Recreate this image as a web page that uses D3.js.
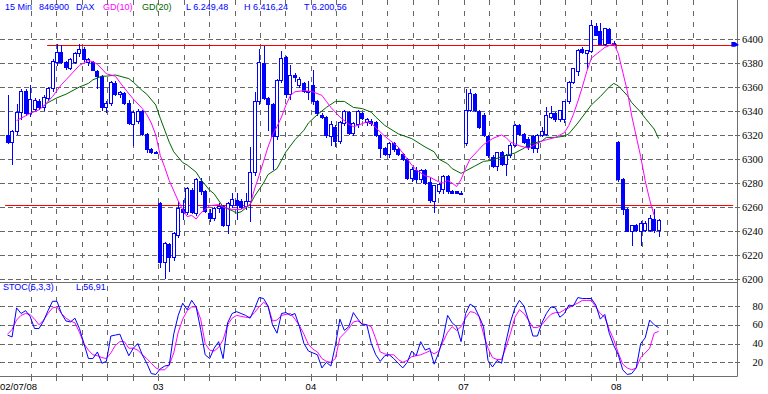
<!DOCTYPE html>
<html>
<head>
<meta charset="utf-8">
<script src="https://cdn.jsdelivr.net/npm/d3@7/dist/d3.min.js"></script>
<style>
  html, body { margin: 0; padding: 0; background: #fff; }
  svg { display: block; }
</style>
</head>
<body>
<script>
// trading days and the bar index where each one starts (15 min bars, 34 per day)
const dayLabels = ['02/07/08', '03', '04', '07', '08'];
const dayStart = [0, 34, 68, 102, 136];

// DAX 15 min candles
const open = [
  6320, 6314, 6323, 6339, 6357, 6338, 6342, 6348, 6343, 6351, 6359, 6381, 6389, 6381, 6376, 6381, 6388,
  6392, 6381, 6381, 6373, 6369, 6343, 6347, 6363, 6354, 6355, 6347, 6329, 6332, 6340, 6321, 6308, 6306,
  6263, 6214, 6229, 6218, 6237, 6258, 6256, 6274, 6255, 6282, 6273, 6255, 6251, 6259, 6261, 6245, 6262,
  6266, 6265, 6261, 6265, 6289, 6348, 6380, 6351, 6346, 6319, 6366, 6385, 6354, 6370, 6362, 6363, 6357,
  6362, 6348, 6337, 6335, 6319, 6327, 6315, 6330, 6339, 6322, 6329, 6338, 6331, 6332, 6331, 6320, 6309,
  6304, 6313, 6308, 6304, 6300, 6284, 6291, 6283, 6291, 6281, 6265, 6273, 6275, 6286, 6273, 6273, 6272,
  6313, 6341, 6354, 6340, 6337, 6319, 6302, 6294, 6306, 6296, 6303, 6312, 6328, 6321, 6317, 6319, 6309,
  6320, 6321, 6335, 6338, 6333, 6333, 6348, 6364, 6373, 6392, 6388, 6390, 6411, 6407, 6396, 6408, 6397,
  6314, 6283, 6258, 6240, 6245, 6240, 6241, 6241, 6250, 6241
];
const high = [
  6353, 6324, 6346, 6358, 6358, 6362, 6351, 6350, 6353, 6360, 6383, 6396, 6395, 6382, 6384, 6389, 6396,
  6393, 6384, 6382, 6374, 6370, 6348, 6365, 6365, 6357, 6356, 6349, 6340, 6342, 6341, 6322, 6309, 6307,
  6264, 6231, 6230, 6239, 6265, 6266, 6277, 6276, 6284, 6284, 6274, 6258, 6260, 6263, 6262, 6264, 6272,
  6272, 6267, 6272, 6310, 6356, 6392, 6394, 6352, 6347, 6367, 6390, 6386, 6378, 6372, 6368, 6364, 6365,
  6374, 6349, 6338, 6336, 6332, 6328, 6332, 6341, 6340, 6331, 6341, 6339, 6334, 6333, 6332, 6321, 6310,
  6314, 6314, 6309, 6305, 6301, 6293, 6293, 6292, 6292, 6285, 6278, 6280, 6287, 6287, 6274, 6273, 6273,
  6358, 6358, 6355, 6341, 6338, 6320, 6303, 6306, 6307, 6304, 6313, 6329, 6329, 6322, 6318, 6320, 6321,
  6327, 6343, 6344, 6339, 6341, 6348, 6365, 6376, 6392, 6393, 6391, 6416.24, 6413, 6413, 6409, 6409, 6398,
  6315, 6284, 6259, 6245, 6246, 6248, 6248, 6253, 6258, 6250
];
const low = [
  6313, 6296, 6321, 6333, 6337, 6336, 6340, 6342, 6341, 6349, 6357, 6378, 6380, 6375, 6375, 6380, 6386,
  6382, 6378, 6374, 6359, 6341, 6339, 6345, 6353, 6352, 6346, 6329, 6312, 6330, 6320, 6306, 6305, 6305,
  6210, 6200.56, 6207, 6216, 6235, 6250, 6254, 6255, 6253, 6271, 6256, 6248, 6249, 6256, 6244, 6238, 6260,
  6250, 6259, 6258, 6248, 6287, 6346, 6350, 6324, 6292, 6317, 6364, 6352, 6350, 6365, 6360, 6356, 6350,
  6346, 6337, 6334, 6318, 6312, 6311, 6313, 6328, 6321, 6320, 6327, 6333, 6328, 6328, 6319, 6302, 6303,
  6302, 6307, 6303, 6299, 6283, 6282, 6281, 6281, 6279, 6264, 6256, 6272, 6272, 6272, 6272, 6272, 6271,
  6312, 6340, 6340, 6326, 6319, 6302, 6293, 6291, 6295, 6287, 6302, 6311, 6320, 6313, 6308, 6306, 6306,
  6319, 6320, 6334, 6332, 6332, 6331, 6347, 6363, 6370, 6388, 6376, 6389, 6403, 6396, 6395, 6397, 6396,
  6282, 6254, 6240, 6228, 6240, 6228, 6240, 6240, 6239, 6236
];
const close = [
  6314, 6323, 6339, 6357, 6338, 6350, 6349, 6343, 6352, 6359, 6382, 6389, 6381, 6377, 6383, 6388, 6392,
  6383, 6383, 6374, 6369, 6343, 6347, 6364, 6354, 6356, 6347, 6330, 6339, 6340, 6321, 6308, 6306, 6305,
  6214, 6230, 6218, 6238, 6259, 6256, 6276, 6256, 6283, 6273, 6257, 6251, 6259, 6261, 6245, 6263, 6267,
  6262, 6260, 6265, 6289, 6348, 6381, 6351, 6346, 6319, 6366, 6384, 6354, 6370, 6368, 6367, 6357, 6356,
  6348, 6338, 6335, 6320, 6329, 6315, 6331, 6340, 6322, 6330, 6340, 6334, 6333, 6330, 6320, 6309, 6304,
  6313, 6308, 6304, 6300, 6284, 6292, 6283, 6291, 6280, 6266, 6278, 6279, 6286, 6273, 6272, 6272, 6272,
  6341, 6355, 6341, 6327, 6320, 6303, 6294, 6306, 6296, 6303, 6312, 6328, 6321, 6314, 6310, 6309, 6320,
  6323, 6337, 6338, 6333, 6341, 6348, 6364, 6376, 6391, 6389, 6391, 6412, 6403, 6396, 6409, 6397, 6397,
  6283, 6258, 6240, 6245, 6241, 6247, 6247, 6251, 6241, 6249.48
];

// GD(10) and GD(20) as [bar, value]
const gd10 = [
  [2, 6332], [4, 6336], [5, 6338], [7, 6341], [8, 6344], [10, 6352], [11, 6357], [12, 6362], [13, 6366],
  [14, 6370], [16, 6378], [17, 6380], [18, 6382], [19, 6381], [20, 6379], [21, 6375], [22, 6371], [24, 6369],
  [25, 6364], [26, 6359], [28, 6350], [30, 6342], [31, 6337], [32, 6330], [33, 6320], [34, 6303], [35, 6293],
  [36, 6282], [38, 6265], [39, 6258], [40, 6252], [41, 6253], [42, 6250], [43, 6255], [45, 6261], [47, 6262],
  [48, 6260], [50, 6258], [52, 6258], [54, 6262], [55, 6275], [56, 6286], [57, 6298], [58, 6310], [59, 6320],
  [60, 6327], [61, 6335], [62, 6345], [63, 6353], [64, 6356], [66, 6357], [68, 6356], [70, 6353], [71, 6348],
  [72, 6343], [74, 6335], [76, 6329], [77, 6327], [78, 6328], [80, 6331], [81, 6330], [82, 6326], [84, 6319],
  [85, 6316], [87, 6310], [88, 6305], [90, 6295], [91, 6291], [93, 6286], [94, 6285], [96, 6281], [97, 6280],
  [98, 6282], [99, 6280], [100, 6277], [101, 6283], [102, 6292], [103, 6300], [105, 6308], [106, 6312],
  [108, 6317], [110, 6320], [111, 6318], [112, 6314], [114, 6311], [116, 6309], [117, 6311], [119, 6315],
  [120, 6316], [122, 6318], [124, 6322], [125, 6328], [126, 6337], [127, 6348], [128, 6360], [129, 6373],
  [130, 6384], [132, 6390], [133, 6393], [135, 6396], [136, 6388], [138, 6357], [139, 6336], [141, 6302],
  [142, 6282], [143, 6266], [144, 6253]
];
const gd20 = [
  [8, 6344], [9, 6347], [11, 6351], [13, 6354], [15, 6358], [16, 6360], [18, 6363], [19, 6366], [21, 6369],
  [22, 6369], [24, 6370], [25, 6369], [27, 6367], [28, 6364], [30, 6357], [31, 6354], [33, 6345], [34, 6334],
  [35, 6324], [36, 6314], [37, 6306], [39, 6297], [40, 6295], [42, 6289], [43, 6283], [45, 6274], [46, 6271],
  [48, 6260], [50, 6257], [51, 6255], [52, 6256], [54, 6262], [55, 6269], [57, 6280], [58, 6287], [60, 6292],
  [61, 6299], [62, 6306], [64, 6316], [66, 6324], [67, 6330], [69, 6337], [71, 6343], [73, 6348], [75, 6348],
  [77, 6343], [79, 6342], [81, 6339], [82, 6335], [84, 6328], [87, 6321], [90, 6317], [93, 6310], [95, 6306],
  [96, 6300], [98, 6296], [99, 6292], [101, 6288], [102, 6290], [104, 6294], [106, 6298], [108, 6299],
  [110, 6302], [113, 6305], [115, 6309], [116, 6312], [119, 6315], [120, 6318], [122, 6318], [124, 6319],
  [125, 6321], [127, 6330], [129, 6340], [130, 6345], [132, 6352], [134, 6360], [135, 6363], [136, 6361],
  [138, 6353], [139, 6347], [141, 6339], [142, 6334], [144, 6325], [145, 6317]
];

// STOC(5,3,3): %K (blue) and %D (magenta), one value per bar
const stocK = [
  49, 47, 78, 72, 75, 69, 56, 56, 64, 75, 85, 85, 72, 64, 63, 67, 56, 40, 24, 24, 31, 19, 21, 48, 49, 50,
  38, 27, 35, 40, 28, 19, 8, 7, 13, 16, 17, 50, 70, 83, 76, 86, 79, 55, 28, 24, 35, 42, 24, 62, 72, 74,
  72, 70, 67, 77, 89, 88, 80, 60, 51, 72, 73, 70, 72, 58, 40, 32, 30, 28, 14, 20, 16, 38, 66, 54, 58, 73,
  66, 60, 60, 40, 28, 21, 27, 28, 24, 19, 14, 20, 32, 27, 42, 33, 35, 18, 30, 46, 70, 62, 58, 42, 72, 82,
  79, 69, 58, 22, 15, 22, 19, 42, 63, 78, 86, 80, 65, 48, 48, 62, 72, 79, 78, 68, 72, 81, 80, 89, 88, 88,
  88, 81, 66, 71, 51, 38, 28, 12, 7, 8, 14, 40, 46, 65, 60, 56.91
];
const stocD = [
  50, 55, 65, 70, 72, 71, 66, 60, 65, 72, 78, 79, 72, 67, 64, 62, 52, 40, 33, 28, 27, 25, 24, 30, 38, 42,
  42, 35, 35, 33, 28, 24, 19, 14, 12, 12, 17, 30, 52, 66, 75, 79, 79, 66, 40, 33, 32, 36, 44, 60, 67, 70,
  69, 68, 68, 73, 79, 84, 80, 64, 65, 70, 71, 72, 66, 59, 50, 39, 34, 31, 24, 21, 20, 24, 46, 51, 56, 63,
  64, 61, 60, 58, 45, 31, 29, 28, 28, 23, 20, 22, 26, 27, 28, 30, 32, 29, 32, 42, 52, 58, 54, 58, 67, 74,
  73, 69, 50, 35, 25, 23, 23, 36, 51, 68, 76, 72, 65, 57, 57, 60, 66, 71, 73, 73, 76, 78, 81, 83, 86, 86,
  86, 79, 72, 68, 55, 44, 30, 18, 14, 12, 14, 25, 30, 35, 51, 53
];

// drawn levels: [price, bar where the line starts]
const levels = [[6395, 8.8], [6262, -0.55]];

const priceTicks = d3.range(6200, 6401, 20);
const stocTicks = [20, 40, 60, 80];

const header = [
  { text: '15 Min', color: '#0000ff' },
  { text: '846900', color: '#0000ff' },
  { text: 'DAX', color: '#0000ff' },
  { text: 'GD(10)', color: '#ff00ff' },
  { text: 'GD(20)', color: '#006400' },
  { text: 'L 6.249,48', color: '#0000ff' },
  { text: 'H 6.416,24', color: '#0000ff' },
  { text: 'T 6.200,56', color: '#0000ff' }
];
const headerX = [5, 39, 76, 103, 142, 186, 244, 304];

const width = 768;
const height = 394;
const axisX = 737;
const mainBottom = 282;
const stocBottom = 376;
const blue = '#0000ff';
const magenta = '#ff00ff';
const green = '#006400';
const gridColor = '#666666';
const frameColor = '#6e6e6e';

const x = d3.scaleLinear().domain([0, 163]).range([7.6, 739.47]);
const y = d3.scaleLinear().domain([6200, 6400]).range([279, 39]);
const ys = d3.scaleLinear().domain([20, 80]).range([362.3, 306]);
const px = (i) => Math.round(x(i));
const crisp = (v) => Math.round(v) + 0.5;

const svg = d3
  .select('body')
  .append('svg')
  .attr('width', width)
  .attr('height', height)
  .attr('viewBox', [0, 0, width, height])
  .style('font-family', '"Liberation Sans", Arial, sans-serif');

// vertical grid, six lines per trading day
const vGrid = d3.range(1, 28).map((g) => (34 * g) / 6 - 0.45);
svg
  .append('g')
  .selectAll('line')
  .data(vGrid)
  .join('line')
  .attr('x1', (d) => crisp(x(d)))
  .attr('x2', (d) => crisp(x(d)))
  .attr('y1', 0)
  .attr('y2', stocBottom)
  .attr('stroke', gridColor)
  .attr('stroke-dasharray', '5,6');

// ticks under the lower panel
svg
  .append('g')
  .selectAll('line')
  .data(vGrid)
  .join('line')
  .attr('x1', (d) => crisp(x(d)))
  .attr('x2', (d) => crisp(x(d)))
  .attr('y1', stocBottom)
  .attr('y2', stocBottom + 5)
  .attr('stroke', gridColor);

// horizontal grid, price panel
const gPrice = svg.append('g');
gPrice
  .selectAll('line.grid')
  .data(priceTicks)
  .join('line')
  .attr('class', 'grid')
  .attr('x1', 0)
  .attr('x2', axisX - 3)
  .attr('y1', (d) => crisp(y(d)))
  .attr('y2', (d) => crisp(y(d)))
  .attr('stroke', gridColor)
  .attr('stroke-dasharray', '5,3');
gPrice
  .selectAll('line.tick')
  .data(priceTicks)
  .join('line')
  .attr('class', 'tick')
  .attr('x1', axisX - 2)
  .attr('x2', axisX + 3)
  .attr('y1', (d) => crisp(y(d)))
  .attr('y2', (d) => crisp(y(d)))
  .attr('stroke', gridColor);
gPrice
  .selectAll('text')
  .data(priceTicks)
  .join('text')
  .attr('x', 763)
  .attr('y', (d) => y(d) + 3.5)
  .attr('text-anchor', 'end')
  .style('font-family', '"Liberation Serif", "Times New Roman", serif')
  .style('font-size', '10.5px')
  .attr('fill', '#000')
  .text((d) => d);

// horizontal grid, stochastic panel
const gStocGrid = svg.append('g');
gStocGrid
  .selectAll('line.grid')
  .data(stocTicks)
  .join('line')
  .attr('class', 'grid')
  .attr('x1', 0)
  .attr('x2', axisX - 3)
  .attr('y1', (d) => crisp(ys(d)))
  .attr('y2', (d) => crisp(ys(d)))
  .attr('stroke', gridColor)
  .attr('stroke-dasharray', '5,3');
gStocGrid
  .selectAll('line.tick')
  .data(stocTicks)
  .join('line')
  .attr('class', 'tick')
  .attr('x1', axisX - 2)
  .attr('x2', axisX + 3)
  .attr('y1', (d) => crisp(ys(d)))
  .attr('y2', (d) => crisp(ys(d)))
  .attr('stroke', gridColor);
gStocGrid
  .selectAll('text')
  .data(stocTicks)
  .join('text')
  .attr('x', 763)
  .attr('y', (d) => ys(d) + 3.5)
  .attr('text-anchor', 'end')
  .style('font-family', '"Liberation Serif", "Times New Roman", serif')
  .style('font-size', '10.5px')
  .attr('fill', '#000')
  .text((d) => d);

// frame
svg.append('line')
  .attr('x1', axisX + 0.5).attr('x2', axisX + 0.5)
  .attr('y1', 0).attr('y2', stocBottom + 0.5)
  .attr('stroke', frameColor);
[mainBottom, stocBottom].forEach((yy) => {
  svg.append('line')
    .attr('x1', 0).attr('x2', axisX + 0.5)
    .attr('y1', yy + 0.5).attr('y2', yy + 0.5)
    .attr('stroke', frameColor);
});

// horizontal levels
svg
  .append('g')
  .selectAll('line')
  .data(levels)
  .join('line')
  .attr('x1', (d) => x(d[1]))
  .attr('x2', x(161.6))
  .attr('y1', (d) => crisp(y(d[0])))
  .attr('y2', (d) => crisp(y(d[0])))
  .attr('stroke', '#ff0000');
// small marker at the right end of the upper level
const mk = levels[0][0];
svg.append('path')
  .attr('d', `M${x(161.2)},${y(mk + 2.5)}L${x(162)},${y(mk + 2.5)}L${x(162.9)},${y(mk)}L${x(162)},${y(mk - 1.5)}L${x(161.2)},${y(mk - 1.5)}Z`)
  .attr('fill', blue);

// candles
const bars = open.map((o, i) => ({ i, o, h: high[i], l: low[i], c: close[i] }));
const gCandles = svg.append('g').attr('shape-rendering', 'crispEdges');
gCandles
  .selectAll('line')
  .data(bars)
  .join('line')
  .attr('x1', (d) => px(d.i) + 0.5)
  .attr('x2', (d) => px(d.i) + 0.5)
  .attr('y1', (d) => Math.round(y(d.h)))
  .attr('y2', (d) => Math.round(y(d.l)) + 1)
  .attr('stroke', blue);
gCandles
  .selectAll('rect')
  .data(bars)
  .join('rect')
  .attr('x', (d) => px(d.i) - 1.5)
  .attr('width', 3)
  .attr('y', (d) => Math.round(y(Math.max(d.o, d.c))) + 0.5)
  .attr('height', (d) => Math.max(1, Math.round(y(Math.min(d.o, d.c))) - Math.round(y(Math.max(d.o, d.c)))))
  .attr('fill', (d) => (d.c >= d.o ? '#ffffff' : blue))
  .attr('stroke', blue);

// moving averages
const maLine = d3.line().x((d) => x(d[0])).y((d) => y(d[1]));
svg.append('path').datum(gd20).attr('d', maLine).attr('fill', 'none').attr('stroke', green).attr('stroke-width', 1);
svg.append('path').datum(gd10).attr('d', maLine).attr('fill', 'none').attr('stroke', magenta).attr('stroke-width', 1);

// stochastic
const stLine = d3.line().x((d, i) => x(i)).y((d) => ys(d));
svg.append('path').datum(stocD).attr('d', stLine).attr('fill', 'none').attr('stroke', magenta).attr('stroke-width', 1);
svg.append('path').datum(stocK).attr('d', stLine).attr('fill', 'none').attr('stroke', blue).attr('stroke-width', 1);

// header texts
svg
  .append('g')
  .selectAll('text')
  .data(header)
  .join('text')
  .attr('x', (d, i) => headerX[i])
  .attr('y', 10)
  .style('font-size', '9px')
  .attr('fill', (d) => d.color)
  .text((d) => d.text);

svg.append('text').attr('x', 3).attr('y', 290).style('font-size', '9px').attr('fill', blue).text('STOC(5,3,3)');
svg.append('text').attr('x', 76).attr('y', 290).style('font-size', '9px').attr('fill', blue).text('L  56,91');

// day labels
svg
  .append('g')
  .selectAll('text')
  .data(dayLabels)
  .join('text')
  .attr('x', (d, i) => (i === 0 ? 0 : x(dayStart[i] - 0.45)))
  .attr('y', 390)
  .attr('text-anchor', (d, i) => (i === 0 ? 'start' : 'middle'))
  .style('font-size', '9.5px')
  .attr('fill', '#000')
  .text((d) => d);
</script>
</body>
</html>
